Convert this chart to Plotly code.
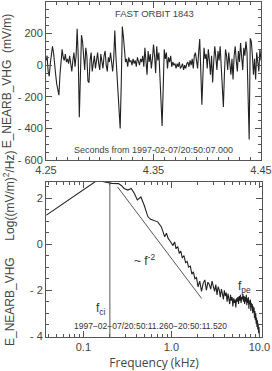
import plotly.graph_objects as go

# ---------------- data ----------------
# top panel: waveform, time axis (s) and field (mV/m)
t_start = 4.25
t_step = 0.001
wave = [30, 60, -40, -70, 10, 60, 120, 80, -10, -60,
        -120, -160, -190, -60, 40, 100, 50, 30, 70, 20,
        40, 10, 60, 20, -40, 30, 80, -10, 60, 230,
        50, -330, -80, 190, 150, 40, -30, 110, 60, -100,
        -110, 30, 80, -40, 20, 60, -20, 40, 80, 10,
        -30, 70, 30, -20, 60, 90, 0, -40, 50, 20,
        80, 10, -40, 40, 220, 60, -60, -150, -300, -400,
        -120, 245, 180, 60, 20, 40, -10, 50, 20, 30,
        0, 40, 10, 30, -10, 50, 30, 0, 40, 20,
        60, -10, 110, 40, -60, 90, 20, 70, -20, 40,
        130, 60, -50, 120, 30, 80, -100, -250, -385, -150,
        100, 40, 80, -20, 50, 20, 60, -10, 20, 0,
        10, -20, 10, -10, 20, -20, -10, 10, -30, 0,
        -20, 10, 20, -10, 30, 0, 40, -20, 60, 80,
        40, -20, 80, 165, -40, -250, -60, 110, 40, 70,
        -20, 100, 30, -60, 60, -110, 20, 120, 50, -30,
        90, 30, 120, -40, -140, -265, -50, 100, 60, -30,
        80, 20, -60, 40, -90, 60, 120, 30, -40, 90,
        20, 140, 50, -30, 110, 60, 150, 80, -200, -470,
        170, 150, 60, -60, 40, -90, 80, 20, -40, 100, 30]
wave_t = [t_start + i * t_step for i in range(len(wave))]

top_yticks = [-600, -400, -200, 0, 200]
top_ytext = ["- 600", "- 400", "- 200", "0", "200"]
top_xticks = [4.25, 4.35, 4.45]
top_xtext = ["4.25", "4.35", "4.45"]

# bottom panel: spectrum, frequency (kHz) and log power
spec_f = [0.038, 0.137, 0.165, 0.19, 0.21, 0.25, 0.27, 0.29, 0.32, 0.35,
          0.38, 0.41, 0.45, 0.49, 0.54, 0.58, 0.62, 0.70, 0.77, 0.84,
          0.88, 0.92, 0.96, 1.00, 1.04, 1.09, 1.13, 1.18, 1.23, 1.28,
          1.33, 1.39, 1.45, 1.51, 1.57, 1.64, 1.71, 1.78, 1.85, 1.93,
          2.01, 2.1, 2.2, 2.3,
          2.4, 2.5, 2.6, 2.7, 2.8, 2.9, 3.0, 3.1, 3.2, 3.3,
          3.4, 3.5, 3.6, 3.7, 3.8, 3.9, 4.0, 4.1, 4.2, 4.3,
          4.4, 4.5, 4.6, 4.7, 4.8, 4.9, 5.0, 5.1, 5.2, 5.3,
          5.4, 5.5, 5.6, 5.7, 5.8, 5.9, 6.0, 6.1, 6.2, 6.3,
          6.4, 6.5, 6.6, 6.7, 6.8, 6.9, 7.0, 7.1, 7.2, 7.3,
          7.4, 7.5, 7.6, 7.7, 7.8, 7.9, 8.0, 8.1, 8.2, 8.3,
          8.4, 8.5, 8.6, 8.7, 8.8, 8.9, 9.0, 9.1, 9.2, 9.3,
          9.4, 9.5, 9.6, 9.7, 9.8, 9.9, 10.0]
spec_v = [1.26, 2.72, 2.72, 2.66, 2.64, 2.63, 2.55, 2.42, 2.35, 2.42,
          2.2, 1.92, 2.05, 1.7, 1.2, 1.08, 1.03, 0.97, 0.75, 0.32,
          0.48, 0.25, 0.15, 0.05, -0.05, 0.1, -0.2, -0.1, -0.4, -0.3,
          -0.6, -0.5, -0.8, -0.75, -1.0, -0.95, -1.3, -1.2, -1.5, -1.45,
          -1.85, -1.6, -2.05, -1.7,
          -1.55, -2.0, -1.65, -1.75, -1.95, -1.6, -1.9, -2.05, -1.75, -2.2,
          -1.85, -2.0, -2.3, -1.95, -2.15, -2.4, -2.0, -2.25, -2.1, -2.5,
          -2.15, -2.35, -2.6, -2.2, -2.45, -2.3, -2.7, -2.35, -2.55, -2.4,
          -2.75, -2.35, -2.5, -2.3, -2.6, -2.25, -2.45, -2.2, -2.55, -2.3,
          -2.4, -2.15, -2.5, -2.25, -2.6, -2.3, -2.5, -2.2, -2.65, -2.35,
          -2.55, -2.3, -2.8, -2.45, -2.6, -2.4, -2.9, -2.55, -2.75, -2.6,
          -3.0, -2.7, -2.95, -2.75, -3.2, -2.9, -3.3, -3.0, -3.45, -3.2,
          -3.6, -3.3, -3.7, -3.45, -3.85, -3.6, -3.95]

fit_f = [0.244, 2.21]
fit_v = [2.49, -2.36]
f_ci = 0.2

bot_yticks = [-4, -2, 0, 2]
bot_ytext = ["- 4", "- 2", "0", "2"]
bot_xticks = [0.1, 1.0, 10.0]
bot_xtext = ["0.1", "1.0", "10.0"]
bot_xminor = [0.04, 0.05, 0.06, 0.07, 0.08, 0.09,
              0.2, 0.3, 0.4, 0.5, 0.6, 0.7, 0.8, 0.9,
              2, 3, 4, 5, 6, 7, 8, 9]

# ---------------- figure ----------------
W, H = 272, 371
ink = "#333333"
lab = "#444444"
FAM = "Liberation Sans, Arial, sans-serif"
font_ticks = dict(family=FAM, size=11, color=lab)

fig = go.Figure()
fig.add_trace(go.Scatter(x=wave_t, y=wave, mode="lines",
                         line=dict(color="#222222", width=1.1),
                         xaxis="x", yaxis="y", showlegend=False,
                         hoverinfo="skip"))
fig.add_trace(go.Scatter(x=spec_f, y=spec_v, mode="lines",
                         line=dict(color="#222222", width=1.1),
                         xaxis="x2", yaxis="y2", showlegend=False,
                         hoverinfo="skip"))
fig.add_trace(go.Scatter(x=fit_f, y=fit_v, mode="lines",
                         line=dict(color="#444444", width=0.9),
                         xaxis="x2", yaxis="y2", showlegend=False,
                         hoverinfo="skip"))
fig.add_trace(go.Scatter(x=[f_ci, f_ci], y=[-4.03, 2.7], mode="lines",
                         line=dict(color="#444444", width=0.9),
                         xaxis="x2", yaxis="y2", showlegend=False,
                         hoverinfo="skip"))

axis_common = dict(showline=True, linecolor="#555555", linewidth=1,
                   mirror="allticks", ticks="inside", ticklen=6,
                   tickcolor="#555555", tickwidth=1, showgrid=False,
                   zeroline=False, tickfont=font_ticks, automargin=False)

fig.update_layout(
    width=W, height=H,
    margin=dict(l=0, r=0, t=0, b=0),
    paper_bgcolor="white", plot_bgcolor="white",
    xaxis=dict(domain=[46 / W, 261 / W], anchor="y", range=[4.25, 4.45],
               tickvals=top_xticks, ticktext=top_xtext,
               minor=dict(ticks="inside", ticklen=3, dtick=0.01, tick0=4.25,
                          tickcolor="#555555", showgrid=False),
               **axis_common),
    yaxis=dict(domain=[1 - 160 / H, 1 - 2 / H], anchor="x", range=[-600, 400],
               tickvals=top_yticks, ticktext=top_ytext,
               minor=dict(ticks="inside", ticklen=3, dtick=50, tick0=0,
                          tickcolor="#555555", showgrid=False),
               title=dict(text="E_NEARB_VHG  (mV/m)", standoff=3,
                          font=dict(family=FAM, size=12, color=lab)),
               **axis_common),
    xaxis2=dict(domain=[46 / W, 262 / W], anchor="y2", type="log",
                range=[-1.425, 1.03],
                tickvals=bot_xticks, ticktext=bot_xtext,
                minor=dict(ticks="inside", ticklen=3, tickvals=bot_xminor,
                           tickcolor="#555555", showgrid=False),
                title=dict(text="Frequency (kHz)", standoff=6,
                           font=dict(family="Open Sans, sans-serif", size=12,
                                     color=lab)),
                **axis_common),
    yaxis2=dict(domain=[1 - 337 / H, 1 - 182 / H], anchor="x2", range=[-4.03, 2.7],
                tickvals=bot_yticks, ticktext=bot_ytext,
                minor=dict(ticks="inside", ticklen=3, dtick=0.5, tick0=0,
                           tickcolor="#555555", showgrid=False),
                **axis_common),
)


def note(text, px, py, size, color=ink, family=FAM, angle=0):
    fig.add_annotation(text=text, x=px / W, y=1 - py / H, xref="paper",
                       yref="paper", xanchor="center", yanchor="middle",
                       showarrow=False, textangle=angle,
                       font=dict(family=family, size=size, color=color))


note("E_NEARB_VHG\u00a0\u00a0\u00a0\u00a0\u00a0Log((mV/m)<sup>2</sup>/Hz)",
     9, 249, 12, lab, angle=-90)
note("FAST ORBIT 1843", 154, 13, 9.5, lab)
note("Seconds from 1997-02-07/20:50:07.000", 153, 150, 9, lab)
note("f<sub>ci</sub>", 101, 309, 12)
note("~ f<sup>-2</sup>", 144, 260, 12)
note("f<sub>pe</sub>", 244, 287, 12)
note("1997\u221202\u221207/20:50:11.260\u221220:50:11.520", 150, 326, 8.5)

fig.write_html("out.html")
